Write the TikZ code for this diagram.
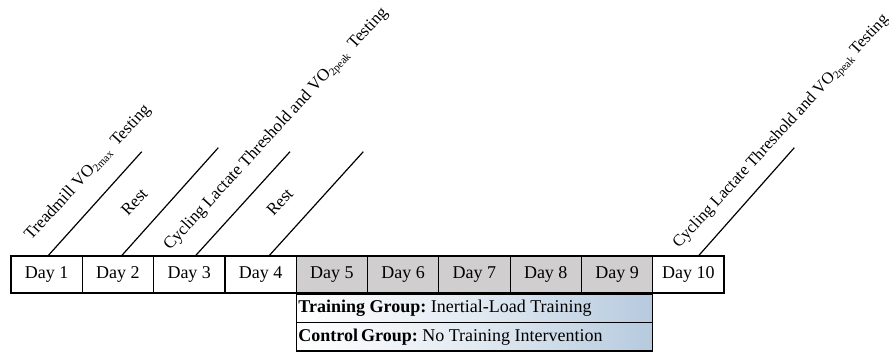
\documentclass[tikz,border=0pt]{standalone}
\usepackage{fontspec}
\setmainfont{Liberation Serif}
\definecolor{daygray}{RGB}{208,206,206}
\definecolor{shadeblue}{RGB}{182,202,222}
\newcommand\mysub[1]{\raisebox{-0.35ex}{\fontsize{11}{11}\selectfont #1}}
\begin{document}
\begin{tikzpicture}[x=1pt,y=-1pt,
  daybox/.style={draw, line width=1.2pt, minimum width=71.3pt, minimum height=37pt,
    inner sep=0pt, outer sep=0pt, anchor=north west, font=\fontsize{18}{21}\selectfont},
  trainday/.style={daybox, fill=daygray},
  groupbox/.style={draw, line width=1.2pt, minimum width=356.5pt, minimum height=28.3pt,
    inner sep=0pt, outer sep=0pt,
    anchor=north west, font=\fontsize{18}{21}\selectfont\frenchspacing,
    left color=white, right color=shadeblue, middle color=white!60!shadeblue},
  lab/.style={rotate=47.5, anchor=base west, inner sep=0pt, font=\fontsize{17}{20}\selectfont},
  diag/.style={line width=1.2pt}]
\useasboundingbox (0,0) rectangle (889,351);
% day boxes
\node[daybox]   (d1)  at (11,256)    {Day 1};
\node[daybox]   (d2)  at (82.3,256)  {Day 2};
\node[daybox]   (d3)  at (153.6,256) {Day 3};
\node[daybox]   (d4)  at (224.9,256) {Day 4};
\node[trainday] (d5)  at (296.2,256) {Day 5};
\node[trainday] (d6)  at (367.5,256) {Day 6};
\node[trainday] (d7)  at (438.8,256) {Day 7};
\node[trainday] (d8)  at (510.1,256) {Day 8};
\node[trainday] (d9)  at (581.4,256) {Day 9};
\node[daybox]   (d10) at (652.7,256) {Day 10};
% group boxes
\node[groupbox] (tg) at (296.2,294.3) {\makebox[352pt][l]{\textbf{Training Group:}\ Inertial-Load Training}};
\node[groupbox] (cg) at (296.2,322.6) {\makebox[352pt][l]{\textbf{Control\,Group:}\ No Training Intervention}};
% diagonal lines
\coordinate (t1)  at (141.7,151.7);
\coordinate (t2)  at (218.3,147.7);
\coordinate (t3)  at (290,151.7);
\coordinate (t4)  at (363.3,151.7);
\coordinate (t10) at (794.3,147.7);
\draw[diag] ([xshift=1.2pt]d1.north)  -- (t1);
\draw[diag] ([xshift=3.4pt]d2.north)  -- (t2);
\draw[diag] ([xshift=6pt]d3.north)    -- (t3);
\draw[diag] ([xshift=8.3pt]d4.north)  -- (t4);
\draw[diag] ([xshift=10pt]d10.north)  -- (t10);
% labels
\node[lab] (l1)  at (31,241)    {Treadmill VO\mysub{2max}\hspace{0.45em}Testing};
\node[lab] (l2)  at (128,217)   {Rest};
\node[lab] (l3)  at (170,251)   {Cycling Lactate Threshold and VO\mysub{2peak}\hspace{0.45em}Testing};
\node[lab] (l4)  at (273.5,217) {Rest};
\node[lab, font=\fontsize{16.5}{19}\selectfont] (l10) at (679,249) {Cycling Lactate Threshold and VO\mysub{2peak} Testing};
\end{tikzpicture}
\end{document}
